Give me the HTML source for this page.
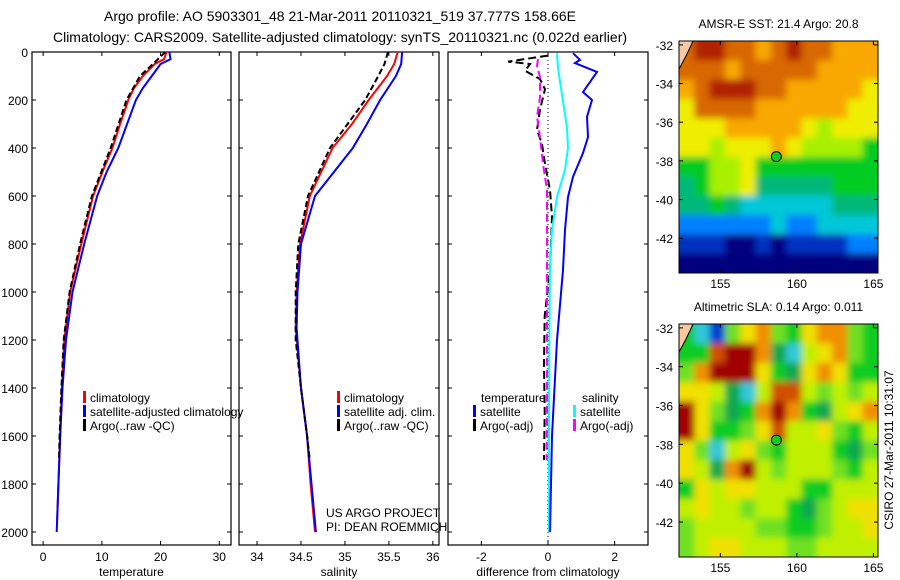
<!DOCTYPE html>
<html><head><meta charset="utf-8"><style>
html,body{margin:0;padding:0;background:#fff;}
svg{display:block;font-family:"Liberation Sans",sans-serif;}
text{fill:#000;}
</style></head><body>
<svg id="fig" width="900" height="580" viewBox="0 0 900 580">
<defs>
<filter id="blur" x="0" y="0" width="1" height="1"><feGaussianBlur stdDeviation="3.5"/></filter>
<clipPath id="clipSst"><rect x="679" y="41" width="199" height="232"/></clipPath>
<clipPath id="clipSla"><rect x="679" y="324" width="199" height="233"/></clipPath>
</defs>
<text x="340" y="21" font-size="14" text-anchor="middle">Argo profile: AO 5903301_48 21-Mar-2011 20110321_519 37.777S 158.66E</text>
<text x="340" y="42" font-size="14" text-anchor="middle">Climatology: CARS2009. Satellite-adjusted climatology: synTS_20110321.nc (0.022d earlier)</text>
<g id="plots"></g>
<text transform="translate(893,450) rotate(-90)" font-size="12" text-anchor="middle">CSIRO 27-Mar-2011 10:31:07</text>
</svg>
<script>
// ---- data ----
const tDepth = [0,30,50,100,150,200,300,400,500,600,800,1000,1200,1400,1600,1800,1950];
const tClim  = [21,20.6,19,17,15.5,14.5,13.1,11.8,10.1,8.5,6.5,4.6,3.6,3.2,2.9,2.6,2.4];
const tDepthSat = [0,30,50,100,150,200,300,400,500,600,800,1000,1200,1400,1600,1800,2000];
const tSat   = [21.5,21.7,20,18.5,17,15.8,14.3,12.8,10.8,9.2,7,5,3.9,3.3,2.9,2.6,2.3];
const tDepthArgo = [0,50,100,200,400,600,800,1000,1200,1400,1600,1700];
const tArgo  = [20.8,18.7,16.5,14.2,11.5,8.3,6.3,4.5,3.5,3.1,2.8,2.7];
const sDepth = [0,50,100,200,300,400,600,800,1000,1150,1400,1600,1800,2000];
const sClim  = [35.6,35.56,35.48,35.27,35.08,34.86,34.6,34.49,34.45,34.44,34.5,34.57,34.61,34.66];
const sSat   = [35.65,35.64,35.58,35.4,35.25,35.09,34.66,34.5,34.46,34.45,34.5,34.57,34.62,34.67];
const sDepthArgo = [0,50,100,200,300,400,600,800,1000,1200,1400,1600,1700];
const sArgo  = [35.49,35.45,35.38,35.23,35.03,34.83,34.58,34.47,34.44,34.44,34.5,34.57,34.6];
const dDepthT = [5,33,46,83,167,200,270,354,421,520,604,741,908,1200,1600,2000];
const dTSat   = [0.75,0.96,0.81,1.47,1.05,1.32,1.17,1.2,1.05,0.75,0.6,0.51,0.45,0.27,0.12,0.06];
const dDepthS = [5,67,178,317,400,490,604,741,908,1200,1600,2000];
const dSSat   = [0.27,0.3,0.42,0.57,0.6,0.51,0.27,0.12,0.06,0.04,0.03,0.03];
const dDepthTA = [15,40,50,78,113,155,240,325,383,466,575,686,908,1100,1300,1500,1700];
const dTArgo   = [0,-1.2,-0.54,-0.69,-0.24,-0.09,-0.24,-0.33,-0.18,-0.09,0.06,0.12,0.06,-0.1,-0.12,-0.1,-0.12];
const dDepthSA = [30,58,104,188,270,354,466,575,908,1200,1500,1700];
const dSArgo   = [-0.3,-0.33,-0.24,-0.24,-0.33,-0.24,-0.15,-0.03,-0.03,-0.03,-0.03,-0.04];
const depthTicks = [0,200,400,600,800,1000,1200,1400,1600,1800,2000];
const tempTicks = [0,10,20,30];
const salTicks = [34,34.5,35,35.5,36];
const diffTicks = [-2,0,2];
const mapLats = [-32,-34,-36,-38,-40,-42];
const mapLons = [155,160,165];
const sstGrid = [
[9,10,10,9,9,8,9,10,9,9,8,8,8],
[9,9,9,8,9,9,9,9,9,8,8,8,8],
[8,9,10,10,10,9,9,8,8,8,8,8,7],
[7,9,9,9,9,8,8,8,8,8,8,7,7],
[7,7,7,8,8,8,8,8,7,6,7,7,7],
[7,7,6,7,7,7,8,7,6,6,6,6,5],
[5,5,6,6,7,5,5,5,5,5,5,5,5],
[4,5,6,6,7,4,4,4,4,4,5,5,5],
[4,4,5,4,3,3,3,3,3,3,4,4,4],
[2,2,2,2,2,2,3,2,2,3,3,3,3],
[1,1,1,0,0,1,0,1,1,1,1,2,2],
[0,0,0,0,0,0,0,0,0,0,0,0,0]];
const slaGrid = [
[3,1,0,4,6,7,4,3,6,7,7,4,3],
[3,3,8,9,9,7,2,1,5,6,7,4,3],
[4,7,9,9,9,6,3,2,6,7,6,3,3],
[6,6,5,2,1,5,8,8,5,4,5,4,5],
[9,6,4,2,3,7,9,7,3,2,5,6,7],
[9,6,3,3,4,6,8,5,5,6,4,3,5],
[6,4,1,5,6,4,3,5,5,5,3,2,4],
[6,5,2,7,9,5,4,5,5,5,4,3,5],
[3,6,5,6,6,5,5,5,3,3,5,5,5],
[5,6,5,5,4,5,5,3,2,4,5,6,6],
[4,5,5,5,5,4,4,3,3,4,5,5,6],
[4,5,6,6,5,5,5,4,4,5,5,5,5]];
const argoLon = 158.66, argoLat = -37.78;

// ---- drawing ----
const NS="http://www.w3.org/2000/svg";
const root=document.getElementById('plots');
function el(tag,attrs,parent){const e=document.createElementNS(NS,tag);for(const k in attrs)e.setAttribute(k,attrs[k]);(parent||root).appendChild(e);return e;}
function txt(s,attrs,parent){const e=el('text',attrs,parent);e.textContent=s;return e;}
const Y0=52,YK=0.24;
const yD=d=>Y0+d*YK;

function panel(name,x0,x1,xmin,xmax,xt,xlabel,showY){
  const xs=v=>x0+(v-xmin)/(xmax-xmin)*(x1-x0);
  const g=el('g',{});
  
  
  const r=el('rect',{x:x0,y:Y0,width:x1-x0,height:545-Y0,fill:'none',stroke:'#000','stroke-width':1.2},g);
  
  
  depthTicks.forEach(d=>{
    el('line',{x1:x0,x2:x0+4,y1:yD(d),y2:yD(d),stroke:'#000'},g);
    el('line',{x1:x1,x2:x1-4,y1:yD(d),y2:yD(d),stroke:'#000'},g);
    if(showY){const t=txt(String(d),{x:x0-4,y:yD(d)+5,'font-size':12,'text-anchor':'end'},g);
      
      }
  });
  xt.forEach(v=>{
    el('line',{x1:xs(v),x2:xs(v),y1:Y0,y2:Y0+4,stroke:'#000'},g);
    el('line',{x1:xs(v),x2:xs(v),y1:545,y2:541,stroke:'#000'},g);
    const t=txt(String(v),{x:xs(v),y:561,'font-size':12,'text-anchor':'middle'},g);
    
    
  });
  const lab=txt(xlabel,{x:(x0+x1)/2,y:576,'font-size':12,'text-anchor':'middle'},g);
  
  
  return {g,xs};
}
function line(p,ds,vs,color,dash,name){
  const pts=ds.map((d,i)=>p.xs(vs[i]).toFixed(1)+','+yD(d).toFixed(1)).join(' ');
  const l=el('polyline',{points:pts,fill:'none',stroke:color,'stroke-width':2,'stroke-dasharray':dash||'none'},p.g);
  
  
}
function legend(p,x,y,items){
  items.forEach((it,i)=>{
    el('rect',{x:x,y:y+i*14-6,width:3,height:12,fill:it[1]},p.g);
    const t=txt(it[0],{x:x+7,y:y+i*14+5,'font-size':12},p.g);
    
    
  });
}
const p1=panel('temperature-panel',32,231,-1.9,32,tempTicks,'temperature',true);
line(p1,tDepth,tClim,'#f00',null,'temp-climatology-line');
line(p1,tDepthSat,tSat,'#00f',null,'temp-satellite-line');
line(p1,tDepthArgo,tArgo,'#000','6,3','temp-argo-line');
legend(p1,83,397,[['climatology','#f00'],['satellite-adjusted climatology','#00f'],['Argo(..raw -QC)','#000']]);

const p2=panel('salinity-panel',239,439,33.795,36.07,salTicks,'salinity',false);
line(p2,sDepth,sClim,'#f00',null,'sal-climatology-line');
line(p2,sDepth,sSat,'#00f',null,'sal-satellite-line');
line(p2,sDepthArgo,sArgo,'#000','6,3','sal-argo-line');
legend(p2,337,397,[['climatology','#f00'],['satellite adj. clim.','#00f'],['Argo(..raw -QC)','#000']]);
txt('US ARGO PROJECT',{x:326,y:517,'font-size':12},p2.g);
txt('PI: DEAN ROEMMICH',{x:326,y:531,'font-size':12},p2.g);

const p3=panel('difference-panel',448,648,-3,3,diffTicks,'difference from climatology',false);
el('line',{x1:p3.xs(0),x2:p3.xs(0),y1:Y0,y2:545,stroke:'#000','stroke-dasharray':'1,3'},p3.g);
line(p3,dDepthTA,dTArgo,'#000','8,4','diff-temp-argo-line');
line(p3,dDepthSA,dSArgo,'#f0f','8,4','diff-sal-argo-line');
line(p3,dDepthS,dSSat,'#0ff',null,'diff-sal-satellite-line');
line(p3,dDepthT,dTSat,'#00f',null,'diff-temp-satellite-line');
txt('temperature',{x:481,y:402,'font-size':12},p3.g);
txt('salinity',{x:582,y:402,'font-size':12},p3.g);
legend(p3,473,411,[['satellite','#00f'],['Argo(-adj)','#000']]);
legend(p3,573,411,[['satellite','#0ff'],['Argo(-adj)','#f0f']]);

// maps
const sstCols=['#00007f','#0030c0','#0080ff','#00c8d8','#00b87a','#00cc20','#a8f000','#f0ee00','#f8a800','#d86800','#b02000'];
const slaCols=['#0040d0','#30c8d8','#10a850','#10cc20','#70e020','#c0f000','#f0e000','#f09000','#d05000','#a00000'];
function map(name,top,bottom,grid,cols,title,clip){
  const L=679,R=878,lonMin=152.3,lonMax=165.3;
  const lat0=-31.8, latK=(bottom-top)/12.0;
  const xm=lo=>L+(lo-lonMin)/(lonMax-lonMin)*(R-L);
  const ym=la=>top+(lat0-la)*latK;
  const g=el('g',{});
  
  
  const cg=el('g',{'clip-path':'url(#'+clip+')'},g);
  const bg=el('g',{filter:'url(#blur)'},cg);
  const cw=(R-L)/grid[0].length, ch=(bottom-top)/grid.length;
  const nr=grid.length, nc=grid[0].length;
  grid.forEach((row,i)=>row.forEach((v,j)=>{
    let x=L+j*cw, y=top+i*ch, w=cw+0.5, h=ch+0.5;
    if(j===0){x-=10;w+=10;} if(j===nc-1){w+=10;}
    if(i===0){y-=10;h+=10;} if(i===nr-1){h+=10;}
    const c=el('rect',{x:x,y:y,width:w,height:h,fill:cols[v]},bg);
    
    
  }));
  el('path',{d:`M${L},${top} L${L+14},${top} Q${L+8},${top+14} ${L},${top+28} Z`,fill:'#f8c8a0',stroke:'#000'},g);
  el('rect',{x:L,y:top,width:R-L,height:bottom-top,fill:'none',stroke:'#000'},g);
  mapLats.forEach(la=>{
    el('line',{x1:L,x2:L+4,y1:ym(la),y2:ym(la),stroke:'#000'},g);
    el('line',{x1:R,x2:R-4,y1:ym(la),y2:ym(la),stroke:'#000'},g);
    txt(String(la),{x:L-6,y:ym(la)+5,'font-size':12,'text-anchor':'end'},g);
  });
  mapLons.forEach(lo=>{
    el('line',{x1:xm(lo),x2:xm(lo),y1:top,y2:top+4,stroke:'#000'},g);
    el('line',{x1:xm(lo),x2:xm(lo),y1:bottom,y2:bottom-4,stroke:'#000'},g);
    txt(String(lo),{x:xm(lo),y:bottom+15,'font-size':12,'text-anchor':'middle'},g);
  });
  const d=el('circle',{cx:xm(argoLon),cy:ym(argoLat),r:5,fill:'#10cc20',stroke:'#000'},g);
  
  
  const t=txt(title,{x:(L+R)/2,y:top-13,'font-size':12,'text-anchor':'middle'},g);
  
  
}
map('sst-map',41,273,sstGrid,sstCols,'AMSR-E SST: 21.4 Argo: 20.8','clipSst');
map('sla-map',324,557,slaGrid,slaCols,'Altimetric SLA: 0.14 Argo: 0.011','clipSla');
</script>
</body></html>
